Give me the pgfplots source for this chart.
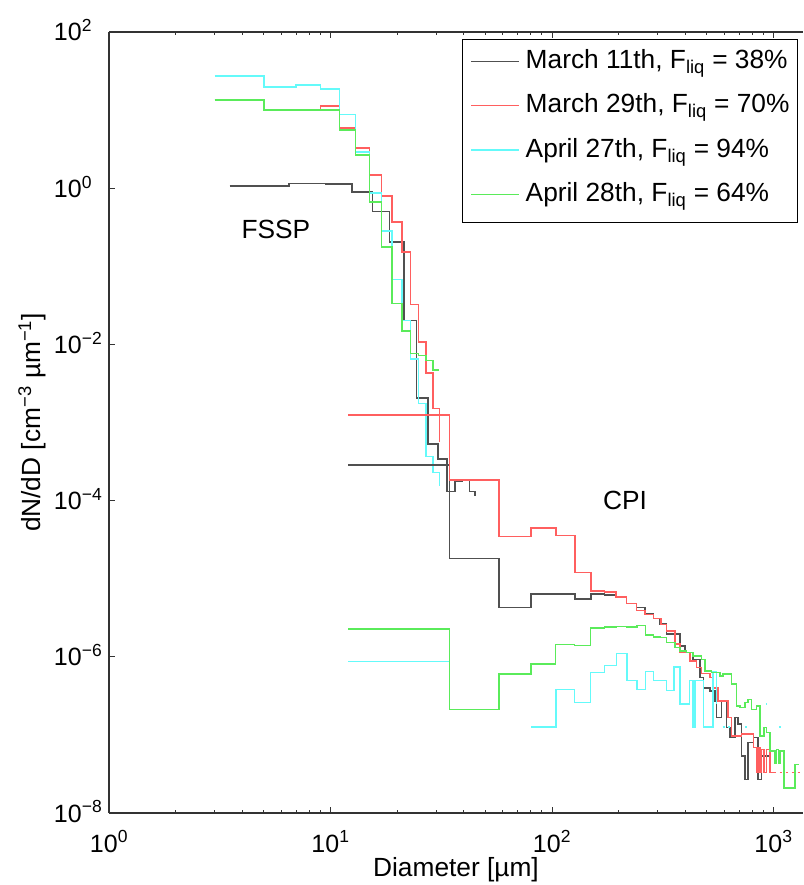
\documentclass[border=0pt]{standalone}
\usepackage{fontspec}
\setmainfont{Liberation Sans}
\usepackage{pgfplots}
\pgfplotsset{compat=1.18}
\definecolor{cblk}{RGB}{80,80,80}
\definecolor{cred}{RGB}{255,95,95}
\definecolor{ccyan}{RGB}{100,250,250}
\definecolor{cgreen}{RGB}{90,235,90}
\newcommand{\tickfont}{\fontsize{25}{30}\selectfont}
\newcommand{\bigfont}{\fontsize{26.3}{31}\selectfont}
\begin{document}
\begin{tikzpicture}
\useasboundingbox (0,0) rectangle (803pt,885pt);
\begin{axis}[
  at={(109pt,72pt)}, anchor=south west,
  scale only axis, width=694pt, height=781pt,
  xmode=log, ymode=log,
  xmin=1, xmax=1359, ymin=1e-8, ymax=100,
  axis x line*=box, axis y line*=left,
  tick align=inside,
  xtick={1,10,100,1000},
  xticklabels={10\textsuperscript{0},10\textsuperscript{1},10\textsuperscript{2},10\textsuperscript{3}},
  ytick={1e-8,1e-6,1e-4,1e-2,1,100},
  yticklabels={10\rlap{\textsuperscript{−8}},10\rlap{\textsuperscript{−6}},10\rlap{\textsuperscript{−4}},10\rlap{\textsuperscript{−2}},10\rlap{\textsuperscript{0}},10\rlap{\textsuperscript{2}}},
  yminorticks=false,
  major tick length=6pt, minor tick length=3.5pt,
  every tick/.style={black!80, line width=0.8pt},
  axis line style={black!80, line width=1.1pt},
  xticklabel style={font=\tickfont, anchor=base, yshift=-39pt, inner sep=0pt},
  yticklabel style={font=\tickfont, anchor=base east, xshift=-27pt, yshift=-9pt, inner sep=0pt},
  xlabel={Diameter [µm]},
  ylabel={dN/dD [cm\textsuperscript{−3} µm\textsuperscript{−1}]},
  every axis x label/.style={at={(axis description cs:0.5,-0.0807)}, anchor=base, font=\bigfont},
  every axis y label/.style={at={(axis description cs:-0.1110,0.5)}, anchor=center, rotate=90, font=\bigfont},
  legend style={at={(0.9928,0.991)}, anchor=north east, draw=black, line width=1pt, fill=white,
    font=\bigfont, inner xsep=8pt, inner ysep=11pt, row sep=16.4pt, column sep=6pt,
    nodes={inner sep=0pt, text height=18pt, text depth=10pt}},
  legend cell align=left,
  legend image code/.code={\draw[#1, line width=1.4pt] (0pt,3.3pt) -- (48pt,3.3pt);},
  every axis plot/.append style={line width=1.5pt, const plot mark left},
]
% ---- FSSP ----
\addplot[cblk] coordinates {(3.5,1.06) (6.5,1.15) (9.5,1.13) (12.5,0.90) (15.5,0.50) (18.5,0.205) (21.5,0.0203) (24.5,0.00205) (27.5,5.33e-4) (30.5,3.42e-4) (33.5,1.31e-4) (36.5,1.77e-4) (39.5,1.85e-4) (42.5,1.31e-4) (45,1.31e-4) (45,1.15e-4)};
\addlegendentry{March 11th, F\textsubscript{liq} = 38\%}
\addplot[cred] coordinates {(3,13.4) (5,10.2) (7,10.2) (9,11.3) (11,5.93) (13,3.29) (15,1.47) (17,0.79) (19,0.37) (21,0.152) (23,0.0326) (25,0.0107) (27,0.00428) (29,0.0015) (31,0.0015) (31,5.6e-4)};
\addlegendentry{March 29th, F\textsubscript{liq} = 70\%}
\addplot[ccyan] coordinates {(3,27.3) (5,19.9) (7,20.9) (9,18.6) (11,8.8) (13,2.92) (15,0.87) (17,0.284) (19,0.0675) (21,0.0203) (23,0.0065) (25,0.00174) (27,3.66e-4) (29,2.3e-4) (31,2.3e-4) (31,1.55e-4)};
\addlegendentry{April 27th, F\textsubscript{liq} = 94\%}
\addplot[cgreen] coordinates {(3,13.4) (5,10.0) (7,10.0) (9,10.0) (11,5.54) (13,2.65) (15,0.668) (17,0.177) (19,0.0333) (21,0.0148) (23,0.0077) (25,0.0072) (27,0.0062) (29,0.0047) (31,0.0047)};
\addlegendentry{April 28th, F\textsubscript{liq} = 64\%}
% ---- CPI ----
\addplot[cblk, forget plot] coordinates {(12,2.87e-4) (34.5,1.82e-5) (57.5,4.3e-6) (80.5,6.35e-6) (127,5.5e-6) (150,6.35e-6) (173,6.2e-6) (194.5,5.8e-6) (217,4.8e-6) (241,4.3e-6) (263,3.6e-6) (287,3.1e-6) (307,2.62e-6) (329,1.95e-6) (379,1.38e-6) (398,1.14e-6) (434,9.3e-7) (466,5.4e-7) (482,4.0e-7) (517,3.66e-7) (543,2.73e-7) (553,1.67e-7) (582,2.73e-7) (614,1.24e-7) (635,9.2e-8) (669,1.67e-7) (692,1.37e-7) (718,5.4e-8) (743,2.7e-8) (769,8.0e-8) (811,9.2e-8) (853,2.7e-8) (883,5.4e-8) (963,5.4e-8)};
\addplot[cred, forget plot] coordinates {(12,1.25e-3) (34.5,1.84e-4) (57.5,3.49e-5) (80.5,4.47e-5) (104,3.55e-5) (127,1.2e-5) (150,7.0e-6) (173,6.75e-6) (194.5,5.8e-6) (217,4.8e-6) (241,3.9e-6) (263,3.5e-6) (287,3.1e-6) (310,2.6e-6) (329,2.15e-6) (359,1.45e-6) (379,1.14e-6) (420,8.9e-7) (449,7.3e-7) (473,6.1e-7) (517,5.4e-7) (534,4.0e-7) (562,2.73e-7) (624,1.67e-7) (646,9.7e-8) (718,1.02e-7) (811,6.9e-8) (839,3.3e-8) (853,6.9e-8) (868,3.3e-8) (883,6.5e-8) (906,3.3e-8) (931,6.5e-8) (963,3.3e-8) (1000,3.3e-8)};
\addplot[cred, forget plot, line width=1pt, dash pattern=on 2pt off 4pt] coordinates {(1000,3.3e-8) (1359,3.3e-8)};
\addplot[ccyan, forget plot] coordinates {(12,8.7e-7) (34.5,8.7e-7)};
\addplot[ccyan, forget plot] coordinates {(80.5,1.27e-7) (104,3.8e-7) (126.5,2.6e-7) (149.5,6.3e-7) (172.5,7.7e-7) (195.5,1.11e-6) (218.5,5.0e-7) (241.5,3.8e-7) (264.5,6.5e-7) (287.5,5.0e-7) (329,3.7e-7) (355,7.4e-7) (379,2.5e-7) (417,5.0e-7) (434,1.27e-7) (442,5.0e-7) (482,1.27e-7) (534,6.5e-7) (553,6.5e-7) (553,2.5e-7)};
\addplot[ccyan, forget plot, dash pattern=on 2pt off 3pt] coordinates {(590,1.27e-7) (640,1.27e-7)};
\addplot[ccyan, forget plot, dash pattern=on 2pt off 3pt] coordinates {(743,1.27e-7) (770,1.27e-7)};
\addplot[ccyan, forget plot] coordinates {(925,2.5e-7) (938,2.5e-7)};
\addplot[ccyan, forget plot] coordinates {(1062,1.27e-7) (1076,1.27e-7)};
\addplot[cgreen, forget plot] coordinates {(12,2.27e-6) (34.5,2.13e-7) (57.5,6.0e-7) (80.5,8.1e-7) (103.5,1.43e-6) (126.5,1.4e-6) (149.5,2.33e-6) (172.5,2.4e-6) (195.5,2.45e-6) (218.5,2.4e-6) (241.5,2.5e-6) (264.5,1.9e-6) (287.5,1.8e-6) (307,1.77e-6) (329,1.53e-6) (359,1.32e-6) (379,1.19e-6) (405,1.14e-6) (434,1.03e-6) (473,9.3e-7) (490,6.6e-7) (525,6.3e-7) (573,5.7e-7) (593,6.0e-7) (646,4.5e-7) (681,2.35e-7) (706,2.24e-7) (743,2.6e-7) (769,2.86e-7) (797,2.13e-7) (839,2.35e-7) (868,9.7e-8) (906,1.24e-7) (931,1.07e-7) (963,6.2e-8) (1016,4.4e-8) (1033,6.5e-8) (1051,4.4e-8) (1069,6.2e-8) (1115,2.1e-8) (1250,4.2e-8) (1300,4.2e-8)};
\node[font=\bigfont] at (axis cs:5.67,0.298) {FSSP};
\node[font=\bigfont] at (axis cs:213.6,1e-4) {CPI};
\end{axis}
\end{tikzpicture}
\end{document}
